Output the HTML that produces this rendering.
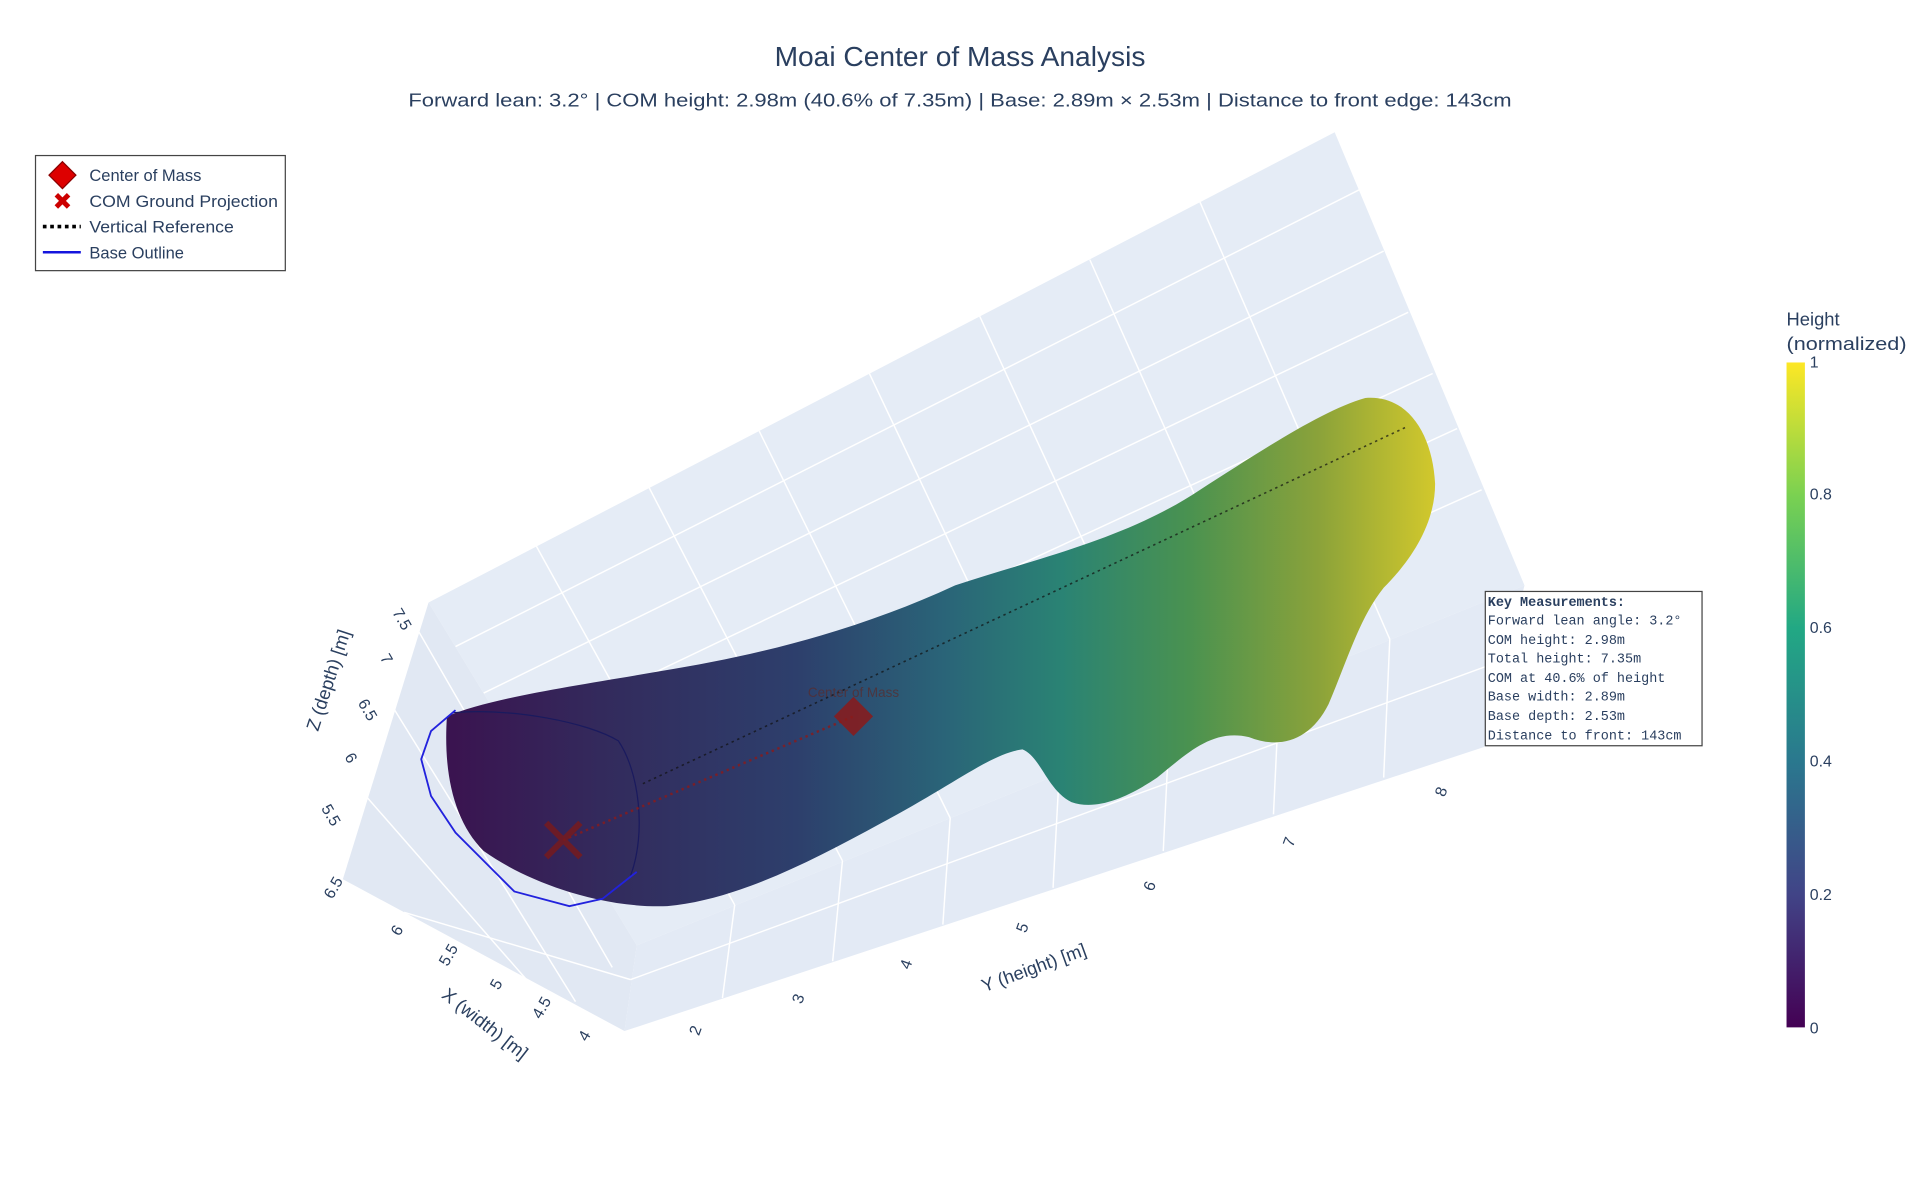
<!DOCTYPE html>
<html><head><meta charset="utf-8"><style>
html,body{margin:0;padding:0;background:#fff;}
svg{display:block;font-family:"Liberation Sans",sans-serif;}
</style></head><body>
<svg width="1920" height="1203" viewBox="0 0 1568 982.4" xmlns="http://www.w3.org/2000/svg">
<defs>
<linearGradient id="vir" x1="370" y1="0" x2="1172" y2="0" gradientUnits="userSpaceOnUse">
<stop offset="0" stop-color="#3a1450"/><stop offset="0.15" stop-color="#332a5c"/>
<stop offset="0.35" stop-color="#2d3f6c"/><stop offset="0.5" stop-color="#2a6478"/>
<stop offset="0.62" stop-color="#2a8374"/><stop offset="0.75" stop-color="#4a9250"/>
<stop offset="0.88" stop-color="#8aa23a"/><stop offset="1" stop-color="#d2c82c"/>
</linearGradient>
<linearGradient id="cb" x1="0" y1="1" x2="0" y2="0">
<stop offset="0" stop-color="#440154"/><stop offset="0.2" stop-color="#414487"/>
<stop offset="0.4" stop-color="#2a788e"/><stop offset="0.6" stop-color="#22a884"/>
<stop offset="0.8" stop-color="#7ad151"/><stop offset="1" stop-color="#fde725"/>
</linearGradient>
</defs>
<rect width="1568" height="982.4" fill="#fff"/>
<text x="784" y="54" text-anchor="middle" font-size="23" fill="#2a3f5f">Moai Center of Mass Analysis</text>
<text x="784" y="87" text-anchor="middle" font-size="15" fill="#2a3f5f" textLength="901" lengthAdjust="spacingAndGlyphs">Forward lean: 3.2° | COM height: 2.98m (40.6% of 7.35m) | Base: 2.89m × 2.53m | Distance to front edge: 143cm</text>
<polygon points="350,492 1090,108 1245,478 520,772" fill="#e5ecf6"/>
<polygon points="520,772 1245,478 1212,610 510,842" fill="#e3eaf5"/>
<polygon points="350,492 520,772 510,842 280,718" fill="#e1e8f3"/>
<g stroke="#fff" stroke-width="1.2" fill="none">
<line x1="438" y1="446" x2="600" y2="739"/><line x1="530" y1="398" x2="688" y2="703"/>
<line x1="620" y1="352" x2="776" y2="668"/><line x1="710" y1="305" x2="865" y2="632"/>
<line x1="800" y1="258" x2="955" y2="595"/><line x1="890" y1="212" x2="1045" y2="560"/>
<line x1="980" y1="165" x2="1135" y2="522"/>
<line x1="372" y1="528" x2="1110" y2="155"/><line x1="395" y1="566" x2="1130" y2="205"/>
<line x1="418" y1="605" x2="1150" y2="255"/><line x1="440" y1="643" x2="1170" y2="305"/>
<line x1="465" y1="682" x2="1190" y2="350"/><line x1="490" y1="722" x2="1210" y2="400"/>
<line x1="600" y1="739" x2="590" y2="815"/><line x1="688" y1="703" x2="680" y2="785"/>
<line x1="776" y1="668" x2="770" y2="755"/><line x1="865" y1="632" x2="860" y2="725"/>
<line x1="955" y1="595" x2="950" y2="695"/><line x1="1045" y1="560" x2="1040" y2="665"/>
<line x1="1135" y1="522" x2="1130" y2="635"/>
<line x1="330" y1="495" x2="500" y2="790"/><line x1="310" y1="560" x2="470" y2="818"/>
<line x1="290" y1="640" x2="430" y2="800"/>
<line x1="515" y1="800" x2="1225" y2="540"/><line x1="330" y1="745" x2="515" y2="800"/>
</g>
<path d="M365,585 C400,570 470,560 540,548 C620,535 700,515 780,478 C850,455 920,440 980,400 C1030,368 1080,335 1115,325 C1150,322 1170,355 1172,395 C1172,430 1150,460 1130,480 C1110,505 1100,540 1085,575 C1070,605 1045,612 1020,602 C990,595 970,615 945,635 C920,652 895,662 875,655 C855,645 850,618 835,612 C810,615 780,640 720,672 C660,705 600,735 545,740 C490,742 430,720 395,695 C370,670 362,630 365,585 Z" fill="url(#vir)"/>
<path d="M370,582 C420,578 480,590 505,605 C522,630 528,680 515,715" fill="none" stroke="#1a1a5e" stroke-width="1"/>
<polyline points="372,580 352,597 344,620 352,650 372,680 398,706 420,728 465,740 492,734 520,712" fill="none" stroke="#2222dd" stroke-width="1.5"/>
<line x1="525" y1="640" x2="1150" y2="348" stroke="#111" stroke-width="1.3" stroke-dasharray="2,3" opacity="0.7"/>
<line x1="460" y1="686" x2="697" y2="585" stroke="#8b1a1a" stroke-width="2" stroke-dasharray="2,3" opacity="0.8"/>
<polygon points="697,569 713,585 697,601 681,585" fill="#8b1a1a" opacity="0.85"/>
<text x="697" y="569" text-anchor="middle" font-size="11" fill="#5a2a2a" opacity="0.7">Center of Mass</text>
<g stroke="#7a1a1a" stroke-width="5" opacity="0.8"><line x1="446" y1="672" x2="474" y2="700"/><line x1="474" y1="672" x2="446" y2="700"/></g>
<g font-size="13" fill="#2a3f5f">
<text transform="translate(320,500) rotate(60)">7.5</text>
<text transform="translate(310,537) rotate(60)">7</text>
<text transform="translate(292,574) rotate(60)">6.5</text>
<text transform="translate(281,618) rotate(60)">6</text>
<text transform="translate(262,660) rotate(60)">5.5</text>
<text transform="translate(276,727) rotate(-60)" text-anchor="middle">6.5</text>
<text transform="translate(328,762) rotate(-60)" text-anchor="middle">6</text>
<text transform="translate(370,782) rotate(-60)" text-anchor="middle">5.5</text>
<text transform="translate(409,806) rotate(-60)" text-anchor="middle">5</text>
<text transform="translate(446,825) rotate(-60)" text-anchor="middle">4.5</text>
<text transform="translate(481,848) rotate(-60)" text-anchor="middle">4</text>
<text transform="translate(572,843) rotate(-70)" text-anchor="middle">2</text>
<text transform="translate(656,817) rotate(-70)" text-anchor="middle">3</text>
<text transform="translate(744,789) rotate(-70)" text-anchor="middle">4</text>
<text transform="translate(839,759) rotate(-70)" text-anchor="middle">5</text>
<text transform="translate(943,725) rotate(-70)" text-anchor="middle">6</text>
<text transform="translate(1057,689) rotate(-70)" text-anchor="middle">7</text>
<text transform="translate(1181,648) rotate(-70)" text-anchor="middle">8</text>
</g>
<g font-size="15" fill="#2a3f5f">
<text transform="translate(273,557) rotate(-72)" text-anchor="middle">Z (depth) [m]</text>
<text transform="translate(393,840) rotate(38)" text-anchor="middle">X (width) [m]</text>
<text transform="translate(846,795) rotate(-20)" text-anchor="middle">Y (height) [m]</text>
</g>
<rect x="1213" y="483" width="177" height="126" fill="#fff" stroke="#444" stroke-width="1"/>
<g font-family="'Liberation Mono',monospace" font-size="11" fill="#2a3f5f">
<text x="1215" y="495" font-weight="bold">Key Measurements:</text>
<text x="1215" y="510">Forward lean angle: 3.2°</text>
<text x="1215" y="526">COM height: 2.98m</text>
<text x="1215" y="541">Total height: 7.35m</text>
<text x="1215" y="557">COM at 40.6% of height</text>
<text x="1215" y="572">Base width: 2.89m</text>
<text x="1215" y="588">Base depth: 2.53m</text>
<text x="1215" y="604">Distance to front: 143cm</text>
</g>
<rect x="29" y="127" width="204" height="94" fill="#fff" stroke="#444" stroke-width="1"/>
<polygon points="51,132 62,143 51,154 40,143" fill="#dd0000" stroke="#8b0000"/>
<text x="73" y="148" font-size="13.5" fill="#2a3f5f">Center of Mass</text>
<g stroke="#cc0000" stroke-width="4"><line x1="46" y1="159" x2="56" y2="169"/><line x1="56" y1="159" x2="46" y2="169"/></g>
<text x="73" y="169" font-size="13.5" fill="#2a3f5f" textLength="154" lengthAdjust="spacingAndGlyphs">COM Ground Projection</text>
<line x1="35" y1="185" x2="66" y2="185" stroke="#000" stroke-width="3" stroke-dasharray="3,3"/>
<text x="73" y="190" font-size="13.5" fill="#2a3f5f" textLength="118" lengthAdjust="spacingAndGlyphs">Vertical Reference</text>
<line x1="35" y1="206" x2="66" y2="206" stroke="#1515dd" stroke-width="2"/>
<text x="73" y="211" font-size="13.5" fill="#2a3f5f">Base Outline</text>
<text x="1459" y="266" font-size="15" fill="#2a3f5f">Height</text>
<text x="1459" y="286" font-size="15" fill="#2a3f5f" textLength="98" lengthAdjust="spacingAndGlyphs">(normalized)</text>
<rect x="1459" y="296" width="15" height="543" fill="url(#cb)"/>
<g font-size="13" fill="#2a3f5f">
<text x="1478" y="300">1</text><text x="1478" y="408">0.8</text><text x="1478" y="517">0.6</text>
<text x="1478" y="626">0.4</text><text x="1478" y="735">0.2</text><text x="1478" y="844">0</text>
</g>
</svg>
</body></html>
